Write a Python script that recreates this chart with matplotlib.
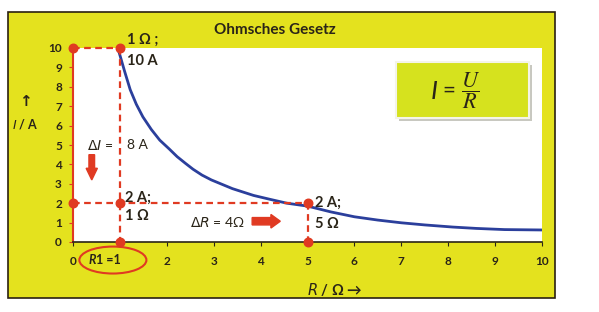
import numpy as np
import matplotlib
matplotlib.use("Agg")
import matplotlib.pyplot as plt
from matplotlib.patches import Rectangle, Ellipse, FancyArrow

plt.rcParams['font.family'] = ['Lato', 'DejaVu Sans']
plt.rcParams['mathtext.fontset'] = 'dejavusans'

# ---- data ----
r_curve = [0.98, 1.1, 1.22, 1.35, 1.49, 1.67, 1.85, 2.05, 2.22, 2.4, 2.56,
           2.75, 2.95, 3.15, 3.4, 3.85, 4.2, 4.56, 5.0, 5.5, 6.0, 6.5, 7.0,
           7.5, 8.1, 8.6, 9.2, 10.0]
i_curve = [9.8, 8.8, 7.85, 7.1, 6.45, 5.8, 5.25, 4.8, 4.4, 4.05, 3.75,
           3.45, 3.2, 3.0, 2.75, 2.4, 2.2, 2.0, 1.85, 1.55, 1.3, 1.13, 0.99,
           0.88, 0.77, 0.7, 0.64, 0.62]

# guide lines (dashed)
guide_x = [[0, 1], [1, 1], [0, 5], [5, 5]]
guide_y = [[10, 10], [10, 0], [2, 2], [2, 0]]
# marked points
pts_x = [0, 1, 0, 1, 5, 1, 5]
pts_y = [10, 10, 2, 2, 2, 0, 0]

xticks = list(range(0, 11))
xtick_labels = ['0', '', '2', '3', '4', '5', '6', '7', '8', '9', '10']
yticks = list(range(0, 11))

yellow = '#e4e21e'
red = '#e03a22'
blue = '#2b3f9c'
dark = '#2a2418'

fig = plt.figure(figsize=(5.99, 3.12), dpi=100)
fig.patch.set_facecolor('white')

# yellow frame
frame = Rectangle((8/599, 14/312), 547/599, 286/312, transform=fig.transFigure,
                  facecolor=yellow, edgecolor='#2a2010', lw=1.2, zorder=-5)
fig.patches.append(frame)

ax = fig.add_axes([73/599, 70/312, 469/599, 194/312])
ax.set_zorder(2)
ax.set_facecolor('white')
ax.set_xlim(0, 10)
ax.set_ylim(0, 10)

for s in ['top', 'right']:
    ax.spines[s].set_visible(False)
ax.spines['left'].set_color(red)
ax.spines['left'].set_linewidth(1.5)
ax.spines['bottom'].set_color(dark)
ax.spines['bottom'].set_linewidth(1.2)

ax.plot(r_curve, i_curve, color=blue, lw=2, zorder=3, solid_capstyle='round')
for gx, gy in zip(guide_x, guide_y):
    ax.plot(gx, gy, color=red, lw=1.6, ls=(0, (3, 2)), zorder=4, clip_on=False)
ax.scatter(pts_x, pts_y, s=38, color=red, zorder=5, clip_on=False)

ax.set_xticks(xticks)
ax.set_xticklabels(xtick_labels)
ax.set_yticks(yticks)
ax.tick_params(axis='x', length=3, color=dark, labelsize=8.5, labelcolor=dark, pad=7)
ax.tick_params(axis='y', length=3, color=red, labelsize=8.5, labelcolor=dark, pad=5)
for lab in ax.get_xticklabels() + ax.get_yticklabels():
    lab.set_fontweight('bold')

txt = dict(color=dark, fontweight='bold', fontsize=10.5)
ax.text(1.15, 10.4, '1 Ω ;', ha='left', va='center', clip_on=False, **txt)
ax.text(1.15, 9.35, '10 A', ha='left', va='center', **txt)
ax.text(0.3, 5.0, r'$\Delta I$ =', ha='left', va='center', color=dark, fontsize=10)
ax.text(1.15, 5.0, '8 A', ha='left', va='center', color=dark, fontsize=10)
ax.text(1.1, 2.3, '2 A;', ha='left', va='center', **txt)
ax.text(1.1, 1.35, '1 Ω', ha='left', va='center', **txt)
ax.text(2.5, 1.05, r'$\Delta R$ = 4Ω', ha='left', va='center', color=dark, fontsize=10)
ax.text(5.16, 2.0, '2 A;', ha='left', va='center', **txt)
ax.text(5.16, 0.93, '5 Ω', ha='left', va='center', **txt)

ax.add_patch(FancyArrow(0.4, 4.5, 0, -1.3, width=0.12, head_width=0.24,
                        head_length=0.6, color=red, length_includes_head=True,
                        zorder=5))
ax.add_patch(FancyArrow(3.82, 1.07, 0.6, 0, width=0.38, head_width=0.7,
                        head_length=0.2, color=red, length_includes_head=True,
                        zorder=5))

# R1 = 1 label with ellipse
ax.text(0.34, -0.95, 'R', ha='left', va='center', color=dark, fontsize=9,
        fontweight='bold', style='italic', clip_on=False)
ax.text(0.5, -0.95, '1 =1', ha='left', va='center', color=dark, fontsize=9,
        fontweight='bold', clip_on=False)
ax.add_patch(Ellipse((0.85, -0.93), 1.43, 1.39, fill=False, edgecolor=red,
                     lw=1.5, clip_on=False))

# formula box (inside the axes)
ax.add_patch(Rectangle((399/599, 1 - 121/312), 133/599, 56/312,
                       transform=fig.transFigure, facecolor='#c8c8c0',
                       edgecolor='none', zorder=6, clip_on=False))
ax.add_patch(Rectangle((396/599, 1 - 118/312), 133/599, 56/312,
                       transform=fig.transFigure, facecolor='#d6e21e',
                       edgecolor='#f4f4e8', lw=1.5, zorder=7, clip_on=False))
ax.text(434/599, 1 - 91/312, 'I', transform=fig.transFigure, style='italic',
        ha='center', va='center', color=dark, fontsize=19, zorder=8)
ax.text(449/599, 1 - 91/312, '=', transform=fig.transFigure,
        ha='center', va='center', color=dark, fontsize=16, zorder=8)
ax.text(471/599, 1 - 91/312, r'$\dfrac{U}{R}$', transform=fig.transFigure,
        ha='center', va='center', color=dark, fontsize=16, zorder=8,
        math_fontfamily='stix')

# axis labels
fig.text(25/599, 1 - 102/312, '↑', ha='center', va='center', color=dark,
         fontsize=11, fontweight='bold', family='DejaVu Sans')
fig.text(25/599, 1 - 124/312, r'$\mathit{I}$ / A', ha='center', va='center',
         color=dark, fontsize=9, fontweight='bold')
fig.text(335/599, 1 - 290/312, r'$\mathit{R}$ / Ω →', ha='center', va='center',
         color=dark, fontsize=10.5, fontweight='bold')

# title
fig.text(275/599, 1 - 30/312, 'Ohmsches Gesetz', ha='center', va='center',
         color=dark, fontsize=11, fontweight='bold')

fig.savefig('out.png', dpi=100)
